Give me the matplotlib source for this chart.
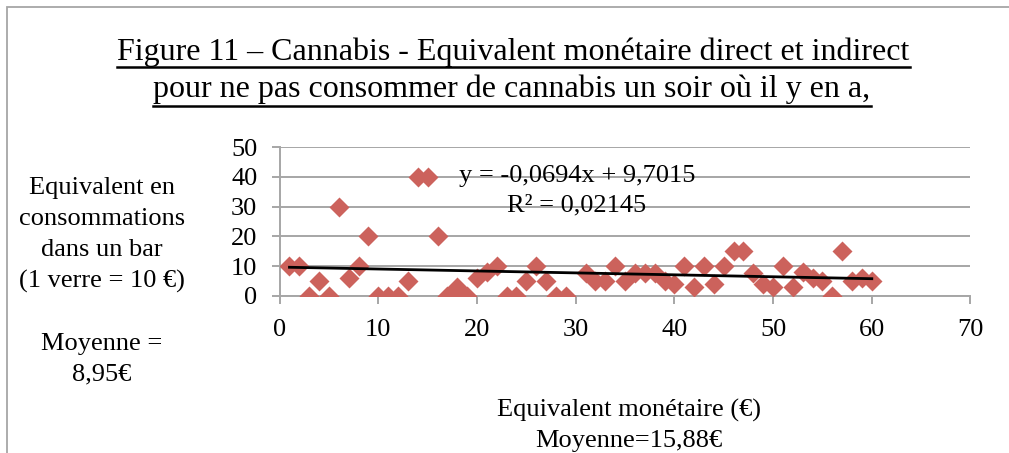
import numpy as np
import matplotlib
matplotlib.use('Agg')
import matplotlib.pyplot as plt
from matplotlib.lines import Line2D
from matplotlib.patches import Rectangle

###############################################################################
# Données
###############################################################################
x_euros = [1, 2, 3, 4, 5, 6, 7, 8, 9, 10,
           11, 12, 13, 14, 15, 16, 17, 18, 19, 20,
           21, 22, 23, 24, 25, 26, 27, 28, 29,
           31, 32, 33, 34, 35, 36, 37, 38, 39, 40,
           41, 42, 43, 44, 45, 46, 47, 48, 49, 50,
           51, 52, 53, 54, 55, 56, 57, 58, 59, 60]
y_conso = [10, 10, 0, 5, 0, 30, 6, 10, 20, 0,
           0, 0, 5, 40, 40, 20, 0, 3, 0, 6,
           8, 10, 0, 0, 5, 10, 5, 0, 0,
           7.5, 5, 5, 10, 5, 7.5, 7.5, 7.5, 5, 4,
           10, 3, 10, 4, 10, 15, 15, 7.5, 4, 3,
           10, 3, 8, 6, 5, 0, 15, 5, 6, 5]

titre_1 = 'Figure 11 – Cannabis - Equivalent monétaire direct et indirect'
titre_2 = 'pour ne pas consommer de cannabis un soir où il y en a,'
label_y = 'Equivalent en\nconsommations\ndans un bar\n(1 verre = 10 €)\n\nMoyenne =\n8,95€'
label_x = 'Equivalent monétaire (€)\nMoyenne=15,88€'
equation = 'y = -0,0694x + 9,7015\nR² = 0,02145'

###############################################################################
# Graphique
###############################################################################
plt.rcParams['font.family'] = ['Liberation Serif', 'DejaVu Serif']

W, H = 1009, 453
fig = plt.figure(figsize=(W / 100, H / 100), dpi=100)
ax = fig.add_axes([279.6 / W, 1 - 295.7 / H, (970.5 - 279.6) / W, (295.7 - 147.3) / H])

gris = '#a6a6a6'
ax.plot(x_euros, y_conso, linestyle='none', marker='D', markersize=10.5,
        color='#cc625c', markeredgecolor='none', zorder=3)

# Courbe de tendance linéaire
a, b = np.polyfit(x_euros, y_conso, 1)
xt = np.array([min(x_euros), max(x_euros)])
ax.plot(xt, a * xt + b, color='black', linewidth=2, zorder=4)

ax.set_xlim(0, 70)
ax.set_ylim(0, 50)
ax.set_xticks(range(0, 71, 10))
ax.set_yticks(range(0, 51, 10))
ax.yaxis.grid(True, color=gris, linewidth=1.4)
ax.set_axisbelow(True)
for s in ['top', 'right']:
    ax.spines[s].set_visible(False)
for s in ['left', 'bottom']:
    ax.spines[s].set_color(gris)
    ax.spines[s].set_linewidth(1.4)
ax.tick_params(axis='both', colors=gris, labelcolor='black', labelsize=19,
               length=6, width=1.4, direction='out')
ax.tick_params(axis='y', pad=10)
ax.tick_params(axis='x', pad=11)

fig.text(577 / W, 1 - 190.5 / H, equation, ha='center', va='center',
         fontsize=19, linespacing=1.42)
fig.text(102 / W, 1 - 281.5 / H, label_y, ha='center', va='center',
         fontsize=19, linespacing=1.52)
fig.text(629 / W, 1 - 425.5 / H, label_x, ha='center', va='center',
         fontsize=19, linespacing=1.45)

t1 = fig.text(513.5 / W, 1 - 52 / H, titre_1, ha='center', va='center', fontsize=23)
t2 = fig.text(512 / W, 1 - 89.5 / H, titre_2, ha='center', va='center', fontsize=23)

# Cadre gris autour du graphique
fig.patches.append(Rectangle((6.5 / W, -0.5), 2, 1.5 - 6.5 / H, transform=fig.transFigure,
                             fill=False, edgecolor=gris, linewidth=1.3))

# Soulignement du titre
fig.canvas.draw()
r = fig.canvas.get_renderer()
for t, yu in [(t1, 66.5), (t2, 105.5)]:
    bb = t.get_window_extent(r)
    fig.lines.append(Line2D([bb.x0 / W, bb.x1 / W], [1 - yu / H, 1 - yu / H],
                            transform=fig.transFigure, color='black', linewidth=1.8))

fig.savefig('out.png', dpi=100)
